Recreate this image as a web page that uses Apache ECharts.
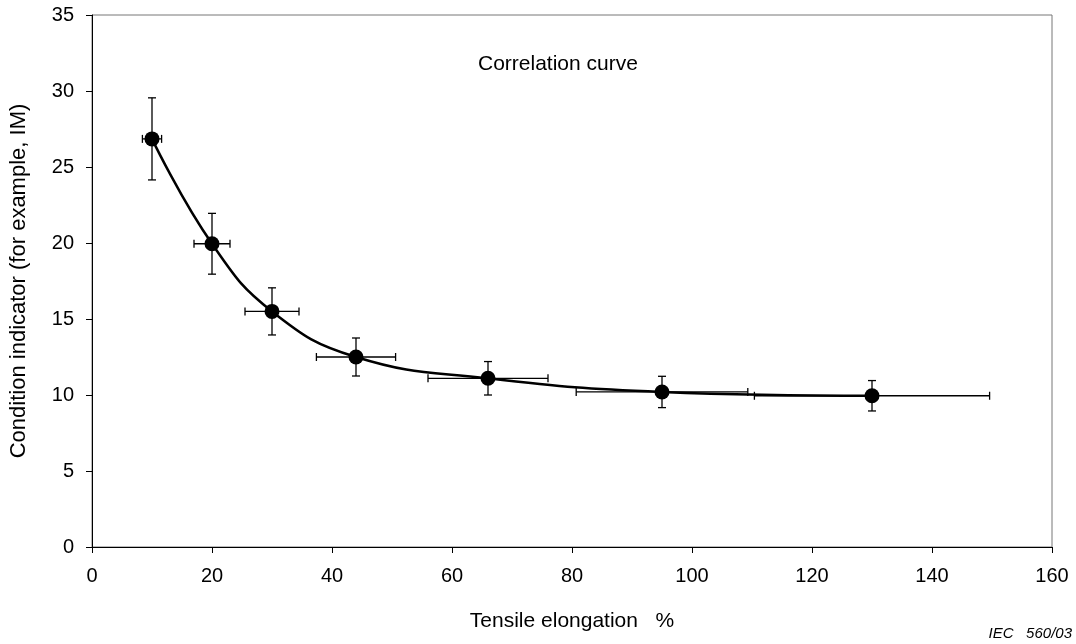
<!DOCTYPE html>
<html>
<head>
<meta charset="utf-8">
<script src="https://cdn.jsdelivr.net/npm/echarts@6/dist/echarts.min.js"></script>
<style>html,body{margin:0;padding:0;background:#fff}#c{width:1076px;height:644px}</style>
</head>
<body>
<div id="c"></div>
<script>
var elongation = [10, 20, 30, 44, 66, 95, 130];
var indicator = [26.85, 19.95, 15.5, 12.5, 11.1, 10.2, 9.95];
var xError = [1.6, 3, 4.5, 6.6, 10, 14.3, 19.6];
var yError = [2.7, 2, 1.55, 1.25, 1.1, 1.03, 1];
var xTicks = [0, 20, 40, 60, 80, 100, 120, 140, 160];
var yTicks = [0, 5, 10, 15, 20, 25, 30, 35];

var points = elongation.map(function (x, i) { return [x, indicator[i]]; });
var errData = elongation.map(function (x, i) { return [x, indicator[i], xError[i], yError[i]]; });

var chart = echarts.init(document.getElementById('c'));
var font = '"Liberation Sans", Arial, sans-serif';
var cap = 4;
function seg(x1, y1, x2, y2) {
  return { type: 'line', shape: { x1: x1, y1: y1, x2: x2, y2: y2 }, style: { stroke: '#000', lineWidth: 1.3 } };
}
chart.setOption({
  animation: false,
  backgroundColor: '#fff',
  grid: { left: 91, right: 24, top: 15, bottom: 97, show: true, borderColor: '#777', borderWidth: 1 },
  xAxis: {
    type: 'value', min: xTicks[0], max: xTicks[xTicks.length - 1], interval: 20,
    name: 'Tensile elongation   %', nameLocation: 'middle', nameGap: 64,
    nameTextStyle: { fontFamily: font, fontSize: 21, color: '#000' },
    axisLine: { lineStyle: { color: '#000', width: 1 } },
    axisTick: { inside: false, length: 6, lineStyle: { color: '#000' } },
    axisLabel: { fontFamily: font, fontSize: 20, color: '#000', margin: 19 },
    splitLine: { show: false }
  },
  yAxis: {
    type: 'value', min: yTicks[0], max: yTicks[yTicks.length - 1], interval: 5,
    name: 'Condition indicator (for example, IM)', nameLocation: 'middle', nameGap: 62,
    nameTextStyle: { fontFamily: font, fontSize: 22, color: '#000' },
    axisLine: { lineStyle: { color: '#000', width: 1 } },
    axisTick: { inside: false, length: 6, lineStyle: { color: '#000' } },
    axisLabel: { fontFamily: font, fontSize: 20, color: '#000', margin: 18 },
    splitLine: { show: false }
  },
  graphic: [
    { type: 'text', left: 478, top: 54, style: { text: 'Correlation curve', font: '21px "Liberation Sans", Arial, sans-serif', fill: '#000' } },
    { type: 'text', right: 4, top: 626, style: { text: 'IEC   560/03', font: 'italic 15px "Liberation Sans", Arial, sans-serif', fill: '#000' } }
  ],
  series: [
    {
      type: 'custom', data: errData, z: 2,
      renderItem: function (params, api) {
        var x = api.value(0), y = api.value(1), ex = api.value(2), ey = api.value(3);
        var l = api.coord([x - ex, y]), r = api.coord([x + ex, y]);
        var t = api.coord([x, y + ey]), b = api.coord([x, y - ey]);
        return { type: 'group', children: [
          seg(l[0], l[1], r[0], r[1]),
          seg(l[0], l[1] - cap, l[0], l[1] + cap),
          seg(r[0], r[1] - cap, r[0], r[1] + cap),
          seg(t[0], t[1], b[0], b[1]),
          seg(t[0] - cap, t[1], t[0] + cap, t[1]),
          seg(b[0] - cap, b[1], b[0] + cap, b[1])
        ] };
      }
    },
    {
      type: 'line', data: points, smooth: 0.45, z: 3,
      symbol: 'circle', symbolSize: 15,
      itemStyle: { color: '#000' },
      lineStyle: { color: '#000', width: 2.5 }
    }
  ]
});
</script>
</body>
</html>
